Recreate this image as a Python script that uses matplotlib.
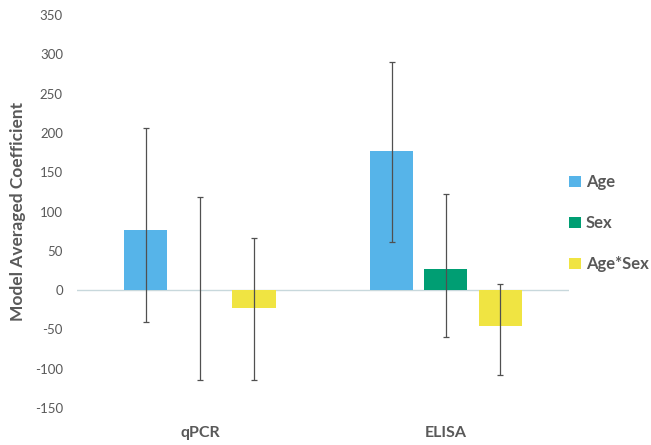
import numpy as np
import matplotlib.pyplot as plt

plt.rcParams['font.family'] = ['Lato', 'DejaVu Sans']

categories = ['qPCR', 'ELISA']
series = ['Age', 'Sex', 'Age*Sex']
values = {
    'Age': [77, 177],
    'Sex': [0.5, 27],
    'Age*Sex': [-23, -45],
}
# error bar ends (lower, upper)
err_low = {
    'Age': [-40, 61],
    'Sex': [-114, -60],
    'Age*Sex': [-114, -108],
}
err_high = {
    'Age': [207, 290],
    'Sex': [118, 122],
    'Age*Sex': [66, 8],
}
colors = {'Age': '#56B4E9', 'Sex': '#009E73', 'Age*Sex': '#F0E442'}
yticks = list(range(-150, 351, 50))

txt = '#595959'
fig = plt.figure(figsize=(6.51, 4.45), dpi=100)
ax = fig.add_axes([0.118, 0.083, 0.756, 0.883])

x = np.arange(len(categories))
width = 0.175
offsets = [-0.22, 0.0, 0.22]
for s, off in zip(series, offsets):
    v = np.array(values[s])
    lo = v - np.array(err_low[s])
    hi = np.array(err_high[s]) - v
    ax.bar(x + off, v, width, color=colors[s], label=s, zorder=2)
    ax.errorbar(x + off, v, yerr=[lo, hi], fmt='none', ecolor='#505050',
                elinewidth=0.9, capsize=2.5, capthick=0.9, zorder=3)

ax.axhline(0, color='#c8d8dc', lw=1, zorder=1)
ax.set_xlim(-0.5, 1.5)
ax.set_ylim(-150, 350)
ax.set_yticks(yticks)
ax.set_yticklabels([str(t) for t in yticks], color=txt, fontsize=9.5)
ax.set_xticks(x)
ax.set_xticklabels(categories, color=txt, fontsize=11.5, fontweight='bold')
ax.tick_params(axis='both', length=0)
ax.tick_params(axis='y', pad=10)
ax.tick_params(axis='x', pad=13)
for sp in ax.spines.values():
    sp.set_visible(False)
ax.set_ylabel('Model Averaged Coefficient', color=txt, fontsize=12.5,
              fontweight='bold', labelpad=6)

leg = ax.legend(loc='center left', bbox_to_anchor=(0.97, 0.47), frameon=False,
                handlelength=0.7, handleheight=0.7, handletextpad=0.3,
                labelspacing=1.5, fontsize=12)
for t in leg.get_texts():
    t.set_color(txt)
    t.set_fontweight('bold')

fig.savefig('out.png', dpi=100)
